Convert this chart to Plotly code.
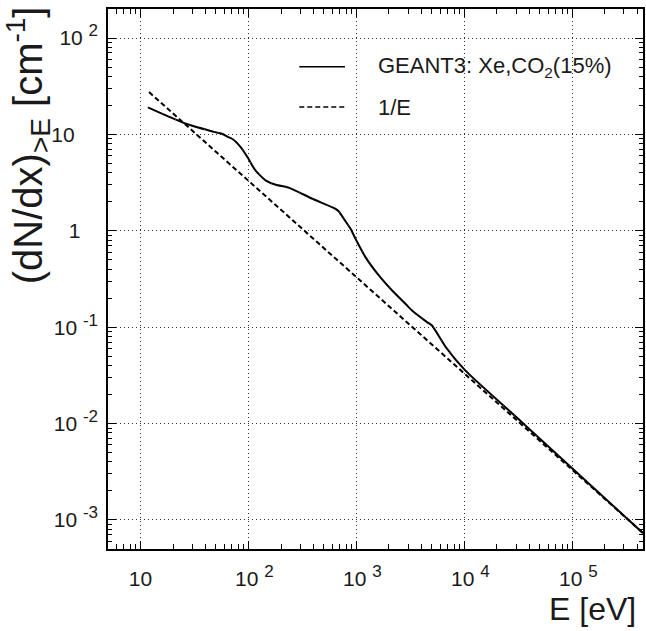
import plotly.graph_objects as go

# GEANT3 integral cluster spectrum, Xe/CO2 (15%)
energy_ev = [11.7, 18.0, 26.4, 50.0, 57.5, 66.0, 71.0, 85.0, 98.0, 113.0, 126.0,
             145.0, 179.0, 238.0, 390.0, 640.0, 687.0, 764.0, 881.0, 980.0,
             1211.0, 1610.0, 2138.0, 2840.0, 3270.0, 4500.0, 5000.0, 6710.0,
             10160.0, 34000.0, 450000.0]
dndx = [19.1, 15.4, 12.9, 10.5, 10.1, 9.3, 8.97, 7.35, 5.79, 4.40, 3.83,
        3.32, 3.00, 2.79, 2.15, 1.69, 1.585, 1.33, 1.05, 0.826,
        0.533, 0.344, 0.240, 0.175, 0.149, 0.113, 0.104, 0.0622,
        0.0356, 0.01035, 0.00073]

# 1/E reference line
inv_e_energy = [12.0, 450000.0]
inv_e_norm = 330.0
inv_e_values = [inv_e_norm / e for e in inv_e_energy]


def power_label(exp, lead=""):
    return (lead + "10\u00a0<span style='font-size:17px;baseline-shift:55%'>"
            + exp + "</span>")


NB = "\u00a0"
x_tickvals = [10, 100, 1000, 10000, 100000]
x_ticktext = ["10"] + [power_label(e, NB * 2) for e in ["2", "3", "4", "5"]]
y_tickvals = [100, 10, 1, 0.1, 0.01, 0.001]
y_ticktext = [power_label("2"), "10" + NB * 4, "1" + NB * 3,
              power_label("-1"), power_label("-2"), power_label("-3")]

legend_labels = ["GEANT3: Xe,CO<sub>2</sub>(15%)", "1/E"]

FONT = "Liberation Sans, Arial, Helvetica, sans-serif"
INK = "#1a1a1a"

minor_x = [k * 10 ** n for n in range(0, 6) for k in range(2, 10)]
minor_y = [k * 10.0 ** n for n in range(-4, 3) for k in range(2, 10)]

fig = go.Figure()

fig.add_trace(go.Scatter(
    x=inv_e_energy, y=inv_e_values, mode="lines",
    line=dict(color="black", width=2, dash="5px,3px"),
    showlegend=False, hoverinfo="skip"))

fig.add_trace(go.Scatter(
    x=energy_ev, y=dndx, mode="lines",
    line=dict(color="black", width=2, shape="spline", smoothing=0.6),
    showlegend=False, hoverinfo="skip"))

# faint red overlay of the same histogram
fig.add_trace(go.Scatter(
    x=energy_ev, y=dndx, mode="lines",
    line=dict(color="rgba(220,40,30,0.8)", width=1, shape="spline",
              smoothing=0.6, dash="1px,14px"),
    showlegend=False, hoverinfo="skip"))

axis_common = dict(
    type="log",
    showline=True, linecolor="black", mirror="ticks",
    ticks="inside", tickcolor="black", ticklen=8, tickwidth=1,
    showgrid=True, gridcolor="#333333", griddash="1px,3px", gridwidth=1,
    zeroline=False,
    tickfont=dict(family=FONT, size=21, color=INK),
)

fig.update_xaxes(
    **axis_common,
    linewidth=2,
    range=[0.69897, 5.65321],
    tickmode="array", tickvals=x_tickvals, ticktext=x_ticktext,
    minor=dict(tickmode="array", tickvals=minor_x, ticks="inside",
               ticklen=5, tickcolor="black", showgrid=False),
    ticklabelstandoff=10,
)
fig.update_yaxes(
    **axis_common,
    linewidth=1.5,
    range=[-3.30103, 2.30103],
    tickmode="array", tickvals=y_tickvals, ticktext=y_ticktext,
    minor=dict(tickmode="array", tickvals=minor_y, ticks="inside",
               ticklen=4, tickcolor="black", showgrid=False),
    ticklabelstandoff=4,
)

# legend drawn inside the frame
x0, x1 = 0.3575, 0.443
rows_y = [0.893, 0.8185]
dashes = ["solid", "5px,3px"]
for yy, lab, dsh in zip(rows_y, legend_labels, dashes):
    fig.add_shape(type="line", xref="paper", yref="paper",
                  x0=x0, x1=x1, y0=yy, y1=yy,
                  line=dict(color="black", width=1.5, dash=dsh))
    fig.add_annotation(xref="paper", yref="paper", x=0.501, y=yy,
                       xanchor="left", yanchor="middle", text=lab,
                       showarrow=False,
                       font=dict(family=FONT, size=22, color=INK))

fig.add_annotation(xref="paper", yref="paper", x=0.99, y=-0.111,
                   xanchor="right", yanchor="middle", text="E [eV]",
                   showarrow=False, font=dict(family=FONT, size=32, color=INK))
fig.add_annotation(xref="paper", yref="paper", x=-0.149, y=1.0093,
                   xanchor="center", yanchor="top", textangle=-90,
                   text="(dN/dx)<sub>&gt;E</sub> [cm<sup>-1</sup>]",
                   showarrow=False, font=dict(family=FONT, size=40, color=INK))

fig.update_layout(
    width=646, height=631,
    margin=dict(l=108, r=1, t=9, b=82),
    paper_bgcolor="white", plot_bgcolor="white",
    showlegend=False,
)

fig.write_html("out.html")
